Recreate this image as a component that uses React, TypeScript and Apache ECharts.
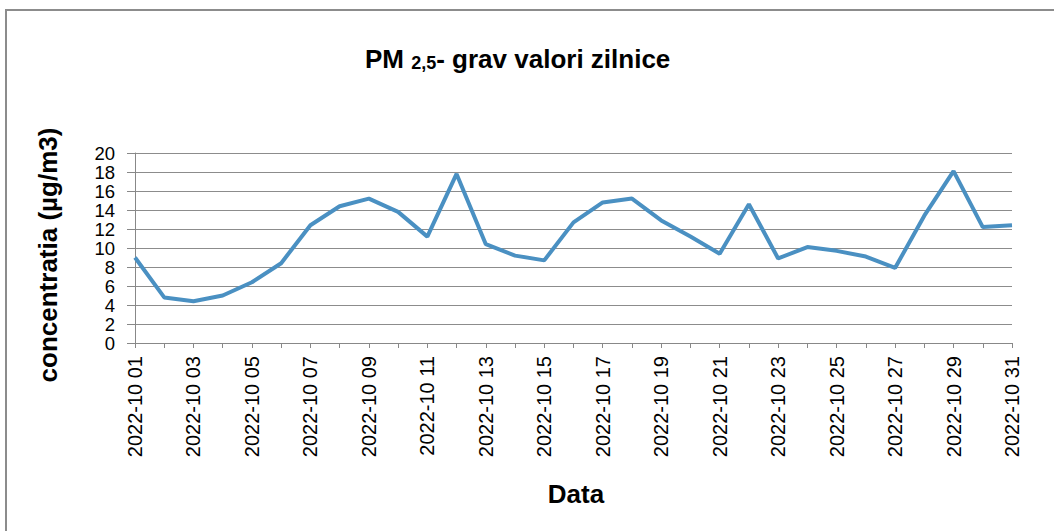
import React, { useEffect, useRef } from "react";
import * as echarts from "echarts";

const days = [
  "01","02","03","04","05","06","07","08","09","10",
  "11","12","13","14","15","16","17","18","19","20",
  "21","22","23","24","25","26","27","28","29","30","31",
];
const categories = days.map((d) => "2022-10 " + d);
const pm25 = [
  9.0, 4.8, 4.4, 5.0, 6.4, 8.4, 12.4, 14.4, 15.2, 13.8,
  11.2, 17.8, 10.4, 9.2, 8.7, 12.7, 14.8, 15.2, 12.9, 11.2,
  9.4, 14.6, 8.9, 10.1, 9.7, 9.1, 7.9, 13.4, 18.1, 12.2, 12.4,
];
const yTicks = { min: 0, max: 20, interval: 2 };

export default function App() {
  const ref = useRef<HTMLDivElement>(null);
  useEffect(() => {
    if (!ref.current) return;
    const chart = echarts.init(ref.current, null, { renderer: "svg" });
    const font = "'Liberation Sans', Arial, sans-serif";
    chart.setOption({
      animation: false,
      backgroundColor: "#ffffff",
      textStyle: { fontFamily: font },
      graphic: [
        {
          type: "rect",
          shape: { x: 6, y: 10, width: 1100, height: 600 },
          style: { fill: "none", stroke: "#8c8c8c", lineWidth: 2 },
          silent: true,
        },
      ],
      title: {
        left: 360,
        top: 41,
        text: "{a|PM }{b|2,5}{a|- grav valori zilnice}",
        textStyle: {
          rich: {
            a: { fontSize: 26, fontWeight: "bold", color: "#000", fontFamily: font },
            b: { fontSize: 18, fontWeight: "bold", color: "#000", fontFamily: font, padding: [7, 0, 0, 0] },
          },
        },
      },
      grid: { left: 135, right: 42, top: 153, bottom: 188, containLabel: false },
      xAxis: {
        type: "category",
        data: categories,
        boundaryGap: false,
        name: "Data",
        nameLocation: "middle",
        nameGap: 138,
        nameTextStyle: { fontSize: 26, fontWeight: "bold", color: "#000", fontFamily: font, padding: [0, 0, 0, 5] },
        axisLine: { lineStyle: { color: "#888888", width: 1 } },
        axisTick: { show: true, interval: 0, length: 5, lineStyle: { color: "#888888" } },
        axisLabel: {
          interval: 1,
          rotate: 90,
          margin: 13,
          fontSize: 20,
          color: "#000",
          fontFamily: font,
        },
        splitLine: { show: false },
      },
      yAxis: {
        type: "value",
        min: yTicks.min,
        max: yTicks.max,
        interval: yTicks.interval,
        name: "concentratia (µg/m3)",
        nameLocation: "middle",
        nameGap: 74,
        nameTextStyle: { fontSize: 26, fontWeight: "bold", color: "#000", fontFamily: font, padding: [0, 14, 0, 0] },
        axisLine: { show: true, lineStyle: { color: "#888888", width: 1 } },
        axisTick: { show: true, length: 8, inside: false, lineStyle: { color: "#888888" } },
        axisLabel: {
          margin: 20,
          fontSize: 18.5,
          lineHeight: 18,
          color: "#000",
          fontFamily: font,
          showMinLabel: true,
          showMaxLabel: true,
          hideOverlap: false,
        },
        splitLine: { show: true, lineStyle: { color: "#8c8c8c", width: 1 } },
      },
      series: [
        {
          type: "line",
          data: pm25,
          showSymbol: false,
          symbol: "none",
          lineStyle: { color: "#4a90c2", width: 4 },
          itemStyle: { color: "#4a90c2" },
        },
      ],
    });
    return () => chart.dispose();
  }, []);
  return (
    <div
      ref={ref}
      style={{ position: "absolute", left: 0, top: 0, width: 1054, height: 531 }}
    />
  );
}
